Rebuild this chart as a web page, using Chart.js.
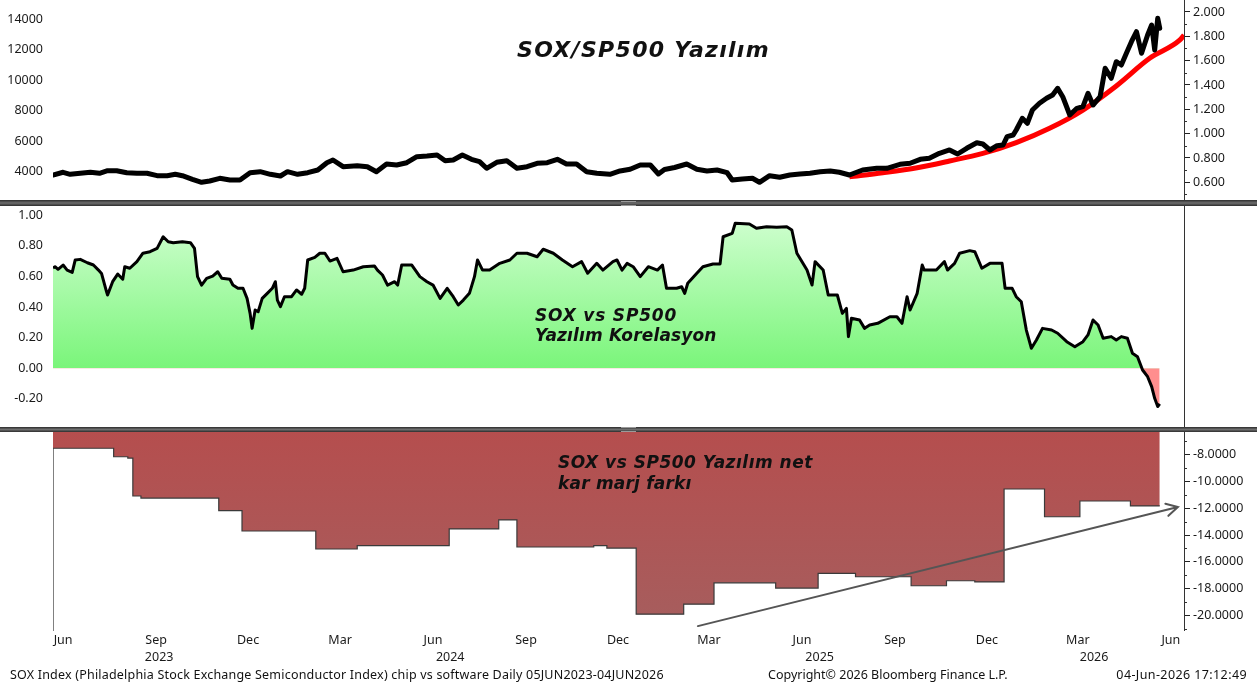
<!DOCTYPE html>
<html>
<head>
<meta charset="utf-8">
<script src="https://cdn.jsdelivr.net/npm/chart.js@4.4.1/dist/chart.umd.min.js"></script>
<style>
  body { margin: 0; background: #fff; width: 1257px; height: 689px; overflow: hidden; position: relative; font-family: "Noto Sans", sans-serif; }
  canvas { position: absolute; left: 0; }
  .divider { position: absolute; left: 0; width: 1257px; background: linear-gradient(#2c2c2c, #6e6e6e 50%, #2c2c2c); }
  .grip { position: absolute; left: 621px; width: 15px; height: 3px; border-top: 1px solid #9a9a9a; border-bottom: 1px solid #9a9a9a; }
  .title { position: absolute; font-family: "DejaVu Sans", sans-serif; font-weight: bold; font-style: italic; color: #111; white-space: nowrap; }
  .title span { display: block; }
  .foot { position: absolute; top: 668px; font-size: 12.5px; line-height: 14px; color: #111; white-space: nowrap; }
</style>
</head>
<body>
<canvas id="c1" width="1257" height="200" style="top:0"></canvas>
<div class="divider" style="top:200px;height:6px"></div>
<div class="grip" style="top:201px"></div>
<canvas id="c2" width="1257" height="221" style="top:206px"></canvas>
<div class="divider" style="top:427px;height:5px"></div>
<div class="grip" style="top:427px"></div>
<canvas id="c3" width="1257" height="236" style="top:432px"></canvas>

<div class="title" style="left:517px;top:37px;font-size:22px;letter-spacing:1.3px">SOX/SP500 Yazılım</div>
<div class="title" style="left:535px;top:305px;font-size:17px;line-height:20px"><span style="letter-spacing:0.8px">SOX vs SP500</span><span style="letter-spacing:0.15px">Yazılım Korelasyon</span></div>
<div class="title" style="left:558px;top:452px;font-size:17px;line-height:21px"><span style="letter-spacing:0.5px">SOX vs SP500 Yazılım net</span><span style="letter-spacing:0.2px">kar marj farkı</span></div>

<div class="foot" style="left:10px;letter-spacing:0.2px">SOX Index (Philadelphia Stock Exchange Semiconductor Index) chip vs software Daily 05JUN2023-04JUN2026</div>
<div class="foot" style="left:768px">Copyright© 2026 Bloomberg Finance L.P.</div>
<div class="foot" style="right:10px;letter-spacing:0.4px">04-Jun-2026 17:12:49</div>

<script>
// all x values are days since 05 Jun 2023 (first day of the series)
var startDate = '2023-06-05';
var axisEndDate = '2026-06-28';

// SOX index (left axis, top panel)
var soxDay = [0,10,17,27,37,46,54,63,73,83,
  93,103,113,121,128,138,147,155,165,175,
  185,195,205,215,225,232,242,252,262,271,
  277,287,301,311,320,330,340,350,360,370,
  380,388,396,405,414,422,429,439,449,459,
  469,479,489,499,508,518,528,538,551,561,
  571,581,591,599,605,615,627,637,647,657,
  667,672,682,692,699,709,719,729,739,749,
  759,769,778,788,801,815,825,838,848,858,
  867,877,887,895,904,914,920,927,934,940,
  944,950,953,959,964,969,976,983,989,994,
  999,1006,1013,1019,1024,1029,1036,1041,1047,1052,
  1057,1062,1067,1072,1077,1083,1087,1090,1093,1095];
var soxValue = [3784,3961,3829,3895,3961,3895,4066,4066,3934,3895,
  3895,3738,3738,3829,3738,3501,3305,3390,3567,3456,
  3456,3934,4000,3829,3718,4000,3829,3934,4112,4590,
  4768,4328,4394,4328,4000,4505,4440,4590,4984,5030,
  5096,4722,4768,5096,4813,4656,4223,4617,4722,4223,
  4328,4551,4590,4813,4505,4505,4000,3895,3829,4046,
  4157,4440,4440,3849,4144,4276,4505,4157,4046,4112,
  3934,3456,3521,3567,3305,3738,3633,3784,3849,3895,
  4000,4046,3961,3784,4112,4223,4223,4485,4551,4813,
  4879,5207,5424,5161,5535,5902,5817,5424,5706,5752,
  6296,6408,6736,7503,7175,8048,8487,8815,9032,9471,
  8920,7720,8159,8264,9143,8375,8920,10783,10127,11216,
  11000,11767,12528,13184,11767,12968,13624,11984,14063,13407];

// trend curve (right axis, top panel)
var trendDay = [788,821,855,887,920,953,986,1019,1052,1085,1115,1119];
var trendValue = [0.646,0.679,0.72,0.775,0.838,0.926,1.044,1.194,1.392,1.619,1.77,1.81];

// correlation (middle panel)
var corrDay = [0,2,5,10,14,19,22,27,34,40,
  45,48,53,54,59,64,69,71,76,83,
  89,96,103,109,114,119,128,136,140,143,
  147,152,158,163,167,175,178,183,188,192,
  195,197,200,203,207,212,217,220,222,225,
  229,236,241,246,249,252,259,264,269,274,
  281,287,297,307,318,321,326,331,338,341,
  345,355,363,370,376,383,390,396,401,406,
  412,417,420,425,432,442,452,459,469,479,
  485,495,504,514,523,529,538,544,554,558,
  563,568,574,581,589,598,603,607,617,622,
  625,628,637,643,653,660,663,672,675,689,
  696,706,716,726,731,736,746,751,754,762,
  767,776,781,785,787,790,798,803,808,816,
  828,835,840,845,848,855,860,862,874,882,
  885,892,897,907,912,919,927,939,942,949,
  953,958,963,968,973,979,988,994,1003,1011,
  1019,1024,1029,1034,1039,1047,1052,1057,1063,1068,
  1073,1078,1083,1087,1090,1093,1095];
var corrValue = [0.655,0.664,0.647,0.675,0.642,0.627,0.708,0.712,0.69,0.675,
  0.642,0.62,0.50,0.479,0.566,0.616,0.582,0.664,0.654,0.697,
  0.752,0.762,0.784,0.86,0.827,0.821,0.827,0.821,0.784,0.599,
  0.544,0.588,0.603,0.631,0.588,0.582,0.544,0.523,0.523,0.457,
  0.359,0.261,0.381,0.37,0.457,0.49,0.523,0.566,0.446,0.403,
  0.468,0.468,0.512,0.484,0.523,0.708,0.725,0.752,0.752,0.701,
  0.719,0.631,0.642,0.664,0.669,0.642,0.61,0.544,0.566,0.544,
  0.675,0.675,0.599,0.566,0.544,0.457,0.523,0.468,0.414,0.446,
  0.49,0.599,0.708,0.642,0.642,0.686,0.708,0.752,0.752,0.729,
  0.778,0.752,0.708,0.664,0.697,0.621,0.686,0.642,0.697,0.708,
  0.642,0.686,0.664,0.599,0.664,0.642,0.675,0.523,0.523,0.533,
  0.49,0.556,0.621,0.664,0.682,0.682,0.86,0.882,0.948,0.943,
  0.915,0.925,0.922,0.925,0.904,0.752,0.642,0.544,0.697,0.642,
  0.479,0.479,0.359,0.392,0.207,0.327,0.316,0.261,0.283,0.294,
  0.337,0.337,0.294,0.468,0.381,0.49,0.675,0.642,0.642,0.697,
  0.642,0.686,0.752,0.769,0.762,0.654,0.686,0.686,0.523,0.523,
  0.468,0.435,0.25,0.131,0.185,0.261,0.25,0.229,0.174,0.141,
  0.174,0.218,0.316,0.283,0.196,0.207,0.185,0.207,0.196,0.098,
  0.076,-0.011,-0.055,-0.12,-0.196,-0.25,-0.233];

// net profit margin gap (bottom panel, step series)
var marginDay = [0,60,74,79,87,164,187,260,301,392,441,459,535,548,577,624,654,715,757,794,849,884,912,941,981,1016,1066,1095];
var marginValue = [-7.55,-8.18,-8.28,-11.1,-11.25,-12.19,-13.7,-15.04,-14.79,-13.55,-12.88,-14.89,-14.79,-14.97,-19.88,-19.14,-17.55,-17.94,-16.85,-17.1,-17.77,-17.4,-17.49,-10.58,-12.64,-11.47,-11.84,-11.84];

// hand drawn arrow in the bottom panel: [day, value]
var arrowFrom = [638, -20.77];
var arrowTo = [1113, -11.92];

// ticks
var soxTicks = [4000, 6000, 8000, 10000, 12000, 14000];
var ratioTicks = [0.6, 0.8, 1.0, 1.2, 1.4, 1.6, 1.8, 2.0];
var ratioMinor = [0.5, 0.7, 0.9, 1.1, 1.3, 1.5, 1.7, 1.9];
var corrTicks = [-0.2, 0, 0.2, 0.4, 0.6, 0.8, 1.0];
var marginTicks = [-20, -18, -16, -14, -12, -10, -8];
var marginMinor = [-21, -19, -17, -15, -13, -11, -9, -7];
var monthTickDates = ['2023-06-15','2023-09-15','2023-12-15','2024-03-15','2024-06-15','2024-09-15','2024-12-15',
  '2025-03-15','2025-06-15','2025-09-15','2025-12-15','2026-03-15','2026-06-15'];
var monthTickLabels = ['Jun','Sep','Dec','Mar','Jun','Sep','Dec','Mar','Jun','Sep','Dec','Mar','Jun'];
var yearLabels = ['2023', '2024', '2025', '2026'];

// axis ranges
var soxRange = [2143, 15264];
var ratioRange = [0.4545, 2.0985];
var corrRange = [-0.3837, 1.0608];
var marginRange = [-21.06, -6.342];

function dayOf(s) {
  return Math.round((Date.parse(s) - Date.parse(startDate)) / 864e5);
}
var axisEnd = dayOf(axisEndDate);
var monthTickDays = monthTickDates.map(dayOf);
var yearCenters = yearLabels.map(function (y) {
  var a = Math.max(0, dayOf(y + '-01-01'));
  var b = Math.min(axisEnd, dayOf((+y + 1) + '-01-01'));
  return (a + b) / 2;
});

function pts(xs, ys) {
  return xs.map(function (d, i) { return { x: d, y: ys[i] }; });
}
function setTicks(values) {
  return function (s) { s.ticks = values.map(function (v) { return { value: v }; }); };
}
function fixWidth(w) {
  return function (s) { s.width = w; s.paddingTop = 0; s.paddingBottom = 0; };
}
function fixHeight(h) {
  return function (s) { s.height = h; s.paddingLeft = 0; s.paddingRight = 0; };
}

Chart.defaults.font.family = '"Noto Sans", sans-serif';
Chart.defaults.font.size = 12.5;
Chart.defaults.color = '#1a1a1a';

var minorTicks = {
  id: 'minorTicks',
  afterDraw: function (chart, args, opts) {
    if (!opts.scaleId) return;
    var s = chart.scales[opts.scaleId], ctx = chart.ctx;
    ctx.save();
    ctx.strokeStyle = '#333';
    ctx.lineWidth = 1;
    opts.values.forEach(function (v) {
      var y = Math.round(s.getPixelForValue(v)) + 0.5;
      if (y < chart.chartArea.top || y > chart.chartArea.bottom) return;
      ctx.beginPath();
      ctx.moveTo(s.left, y);
      ctx.lineTo(s.left + 3, y);
      ctx.stroke();
    });
    ctx.restore();
  }
};

var arrow = {
  id: 'arrow',
  afterDatasetsDraw: function (chart, args, opts) {
    if (!opts.from) return;
    var xs = chart.scales.x, ys = chart.scales.yR, ctx = chart.ctx;
    var x1 = xs.getPixelForValue(opts.from[0]), y1 = ys.getPixelForValue(opts.from[1]);
    var x2 = xs.getPixelForValue(opts.to[0]), y2 = ys.getPixelForValue(opts.to[1]);
    var a = Math.atan2(y2 - y1, x2 - x1), len = 13, spread = 0.5;
    ctx.save();
    ctx.strokeStyle = '#555';
    ctx.lineWidth = 2;
    ctx.lineCap = 'round';
    ctx.beginPath();
    ctx.moveTo(x1, y1);
    ctx.lineTo(x2, y2);
    ctx.moveTo(x2 - len * Math.cos(a - spread), y2 - len * Math.sin(a - spread));
    ctx.lineTo(x2, y2);
    ctx.lineTo(x2 - len * Math.cos(a + spread), y2 - len * Math.sin(a + spread));
    ctx.stroke();
    ctx.restore();
  }
};

Chart.register(minorTicks, arrow);

function baseOptions(scales, extra) {
  var plugins = { legend: { display: false }, tooltip: { enabled: false } };
  for (var k in extra) plugins[k] = extra[k];
  return { responsive: false, animation: false, events: [], layout: { padding: 0 }, scales: scales, plugins: plugins };
}
function hiddenX() {
  return { type: 'linear', min: 0, max: axisEnd, display: false };
}
function leftLabels(range, ticks, fmt) {
  return {
    type: 'linear', position: 'left', min: range[0], max: range[1],
    afterBuildTicks: setTicks(ticks), afterFit: fixWidth(53),
    grid: { display: false, drawTicks: false }, border: { display: false },
    ticks: { padding: 10, autoSkip: false, callback: fmt }
  };
}
function rightAxis(range, ticks, fmt) {
  return {
    type: 'linear', position: 'right', min: range[0], max: range[1],
    afterBuildTicks: setTicks(ticks), afterFit: fixWidth(73),
    grid: { display: true, drawOnChartArea: false, drawTicks: true, tickLength: 6, tickColor: '#222' },
    border: { display: true, color: '#333', width: 1 },
    ticks: { padding: 3, autoSkip: false, callback: fmt }
  };
}

// top panel
new Chart(document.getElementById('c1'), {
  type: 'line',
  data: {
    datasets: [
      { data: pts(soxDay, soxValue), yAxisID: 'yL', borderColor: '#000', borderWidth: 5,
        pointRadius: 0, borderJoinStyle: 'round', borderCapStyle: 'round', tension: 0 },
      { data: pts(trendDay, trendValue), yAxisID: 'yR', borderColor: '#ff0000', borderWidth: 5,
        pointRadius: 0, cubicInterpolationMode: 'monotone' }
    ]
  },
  options: baseOptions({
    x: hiddenX(),
    yL: leftLabels(soxRange, soxTicks, function (v) { return String(v); }),
    yR: rightAxis(ratioRange, ratioTicks, function (v) { return v.toFixed(3); })
  }, { minorTicks: { scaleId: 'yR', values: ratioMinor } })
});

// middle panel
new Chart(document.getElementById('c2'), {
  type: 'line',
  data: {
    datasets: [{
      data: pts(corrDay, corrValue), yAxisID: 'y', borderColor: '#000', borderWidth: 3,
      pointRadius: 0, tension: 0, borderJoinStyle: 'round',
      backgroundColor: function (c) {
        var ch = c.chart, area = ch.chartArea;
        if (!area) return 'rgb(160,250,160)';
        var g = ch.ctx.createLinearGradient(0, area.top, 0, ch.scales.y.getPixelForValue(0));
        g.addColorStop(0, 'rgb(214,255,214)');
        g.addColorStop(1, 'rgb(122,245,122)');
        return g;
      },
      fill: { target: 'origin', below: 'rgb(255,142,142)' }
    }]
  },
  options: baseOptions({
    x: hiddenX(),
    y: leftLabels(corrRange, corrTicks, function (v) { return v.toFixed(2); }),
    yR: {
      type: 'linear', position: 'right', min: 0, max: 1, afterFit: fixWidth(73),
      grid: { display: false, drawTicks: false }, ticks: { display: false },
      border: { display: true, color: '#333', width: 1 }
    }
  }, {})
});

// bottom panel
new Chart(document.getElementById('c3'), {
  type: 'line',
  data: {
    datasets: [{
      data: pts(marginDay, marginValue), yAxisID: 'yR', xAxisID: 'x', stepped: true,
      borderColor: '#3a3a3a', borderWidth: 1.2, pointRadius: 0,
      backgroundColor: function (c) {
        var area = c.chart.chartArea;
        if (!area) return 'rgb(176,82,82)';
        var g = c.chart.ctx.createLinearGradient(0, area.top, 0, area.bottom);
        g.addColorStop(0, 'rgb(181,78,78)');
        g.addColorStop(1, 'rgb(166,94,94)');
        return g;
      },
      fill: 'end'
    }]
  },
  options: baseOptions({
    x: {
      type: 'linear', position: 'bottom', min: 0, max: axisEnd,
      afterBuildTicks: setTicks(monthTickDays), afterFit: fixHeight(18),
      grid: { display: false, drawTicks: false }, border: { display: false },
      ticks: { padding: 2.5, autoSkip: false, maxRotation: 0,
        callback: function (v, i) { return monthTickLabels[i]; } }
    },
    xYear: {
      axis: 'x', type: 'linear', position: 'bottom', min: 0, max: axisEnd,
      afterBuildTicks: setTicks(yearCenters), afterFit: fixHeight(20),
      grid: { display: false, drawTicks: false }, border: { display: false },
      ticks: { padding: 1.5, autoSkip: false, maxRotation: 0,
        callback: function (v, i) { return yearLabels[i]; } }
    },
    yL: {
      type: 'linear', position: 'left', min: marginRange[0], max: marginRange[1], afterFit: fixWidth(53),
      grid: { display: false, drawTicks: false }, ticks: { display: false },
      border: { display: true, color: '#808080', width: 1 }
    },
    yR: rightAxis(marginRange, marginTicks, function (v) { return v.toFixed(4); })
  }, {
    minorTicks: { scaleId: 'yR', values: marginMinor },
    arrow: { from: arrowFrom, to: arrowTo }
  })
});
</script>
</body>
</html>
